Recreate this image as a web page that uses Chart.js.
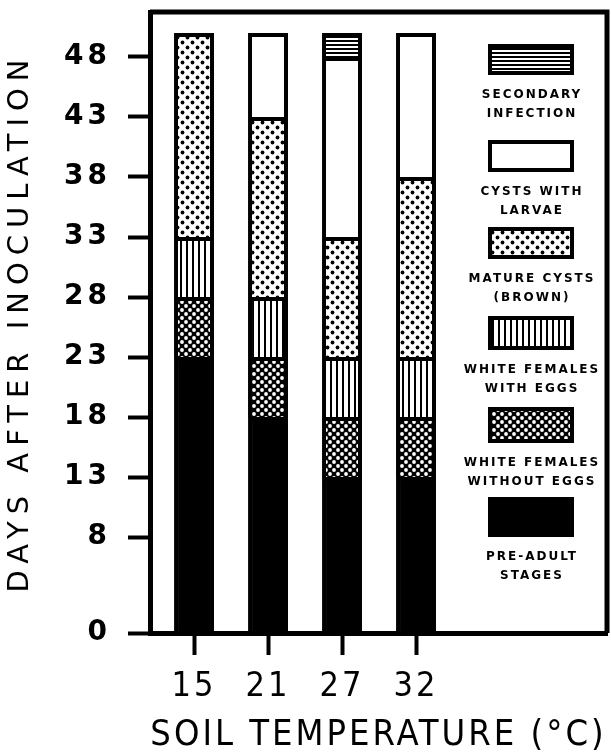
<!DOCTYPE html>
<html>
<head>
<meta charset="utf-8">
<script src="https://cdn.jsdelivr.net/npm/chart.js@4.4.1/dist/chart.umd.min.js"></script>
<style>
  html, body { margin: 0; padding: 0; background: #fff; }
</style>
</head>
<body>
<canvas id="chart" width="611" height="754"></canvas>
<script>
// soil temperature categories and y ticks (days)
const temperatures = ['15', '21', '27', '32'];
const dayTicks = [0, 8, 13, 18, 23, 28, 33, 38, 43, 48];
const dayMax = 51.75;

// days spent in each stage, stacked from the bottom up
const preAdult = [23, 18, 13, 13];
const femalesNoEggs = [5, 5, 5, 5];
const femalesEggs = [5, 5, 5, 5];
const matureCysts = [17, 15, 10, 15];
const cystsLarvae = [0, 7, 15, 12];
const secondaryInfection = [0, 0, 2, 0];

// legend text, top to bottom
const legendLines = [
  ['SECONDARY', 'INFECTION'],
  ['CYSTS WITH', 'LARVAE'],
  ['MATURE CYSTS', '(BROWN)'],
  ['WHITE FEMALES', 'WITH EGGS'],
  ['WHITE FEMALES', 'WITHOUT EGGS'],
  ['PRE-ADULT', 'STAGES']
];

const canvas = document.getElementById('chart');
const ctx = canvas.getContext('2d');

function makePattern(w, h, bg, draw) {
  const c = document.createElement('canvas');
  c.width = w;
  c.height = h;
  const g = c.getContext('2d');
  g.fillStyle = bg;
  g.fillRect(0, 0, w, h);
  draw(g);
  return ctx.createPattern(c, 'repeat');
}

function dot(g, x, y, r) {
  g.beginPath();
  g.arc(x, y, r, 0, Math.PI * 2);
  g.fill();
}

const solidBlack = '#000';
const crossHatch = makePattern(8, 8, '#000', g => {
  g.fillStyle = '#fff';
  dot(g, 2, 2, 1.9);
  dot(g, 6, 6, 1.9);
});
const verticalLines = makePattern(6, 1, '#fff', g => {
  g.fillStyle = '#000';
  g.fillRect(0, 0, 2, 1);
});
const dotted = makePattern(10, 10, '#fff', g => {
  g.fillStyle = '#000';
  dot(g, 2.5, 2.5, 1.9);
  dot(g, 7.5, 7.5, 1.9);
});
const horizontalLines = makePattern(1, 4, '#fff', g => {
  g.fillStyle = '#000';
  g.fillRect(0, 0, 1, 2);
});

function toPoints(values) {
  return values.map((v, i) => ({ x: i, y: v }));
}

function bar(label, values, fill) {
  return {
    label: label,
    data: toPoints(values),
    backgroundColor: fill,
    borderColor: '#000',
    borderWidth: 4,
    borderSkipped: 'start',
    barPercentage: 0.54,
    categoryPercentage: 1
  };
}

// canvas letterSpacing per scale (chart.js has no option for it)
function spaceText(scale, titleGap, labelGap) {
  if (scale._spaced) return;
  scale._spaced = true;
  const drawTitle = scale.drawTitle;
  const drawLabels = scale.drawLabels;
  scale.drawTitle = function () {
    this.ctx.save();
    this.ctx.letterSpacing = titleGap;
    drawTitle.apply(this, arguments);
    this.ctx.restore();
  };
  scale.drawLabels = function () {
    this.ctx.save();
    this.ctx.letterSpacing = labelGap;
    drawLabels.apply(this, arguments);
    this.ctx.restore();
  };
}

const framePlugin = {
  id: 'frame',
  afterDraw(chart) {
    const a = chart.chartArea;
    const c = chart.ctx;
    c.save();
    c.strokeStyle = '#000';
    c.lineWidth = 5;
    c.beginPath();
    c.moveTo(a.left, a.top);
    c.lineTo(a.right, a.top);
    c.lineTo(a.right, a.bottom);
    c.stroke();
    c.restore();
  }
};

const legendPlugin = {
  id: 'sideLegend',
  afterDraw(chart) {
    const c = chart.ctx;
    const sets = chart.data.datasets.slice().reverse();
    const boxX = 490, boxW = 82;
    const tops = [46, 142, 229, 318, 409, 499];
    const heights = [27, 28, 28, 30, 32, 36];
    c.save();
    sets.forEach((ds, i) => {
      const y = tops[i], h = heights[i];
      c.fillStyle = ds.backgroundColor;
      c.fillRect(boxX, y, boxW, h);
      c.strokeStyle = '#000';
      c.lineWidth = 4;
      c.strokeRect(boxX, y, boxW, h);
      c.fillStyle = '#000';
      c.font = 'bold 12px "DejaVu Sans"';
      c.letterSpacing = '2px';
      c.textAlign = 'center';
      c.textBaseline = 'middle';
      const lines = legendLines[i];
      c.fillText(lines[0], boxX + boxW / 2 + 1, y + h + 22);
      c.fillText(lines[1], boxX + boxW / 2 + 1, y + h + 41);
    });
    c.restore();
  }
};

new Chart(ctx, {
  type: 'bar',
  data: {
    datasets: [
      bar('Pre-adult stages', preAdult, solidBlack),
      bar('White females without eggs', femalesNoEggs, crossHatch),
      bar('White females with eggs', femalesEggs, verticalLines),
      bar('Mature cysts (brown)', matureCysts, dotted),
      bar('Cysts with larvae', cystsLarvae, '#fff'),
      bar('Secondary infection', secondaryInfection, horizontalLines)
    ]
  },
  options: {
    responsive: false,
    animation: false,
    devicePixelRatio: 1,
    layout: { padding: { top: 12, right: 4, left: 0, bottom: 0 } },
    plugins: {
      legend: { display: false },
      tooltip: { enabled: false }
    },
    scales: {
      x: {
        type: 'linear',
        stacked: true,
        offset: false,
        min: -0.595,
        max: 5.581,
        afterBuildTicks: s => { s.ticks = temperatures.map((t, i) => ({ value: i })); },
        afterFit: s => {
          s.height = 121;
          s.paddingLeft = 0;
          s.paddingRight = 0;
          spaceText(s, '3px', '3px');
        },
        ticks: {
          callback: (v, i) => temperatures[i],
          color: '#000',
          padding: 12,
          maxRotation: 0,
          autoSkip: false,
          font: { family: '"DejaVu Sans Condensed", "DejaVu Sans"', size: 34 }
        },
        grid: { display: true, offset: false, drawOnChartArea: false, tickLength: 22, tickWidth: 4, tickColor: '#000' },
        border: { display: true, width: 5, color: '#000' },
        title: {
          display: true,
          text: 'SOIL TEMPERATURE (°C)',
          color: '#000',
          padding: 0,
          font: { family: '"DejaVu Sans Condensed", "DejaVu Sans"', size: 36, lineHeight: 1 }
        }
      },
      y: {
        stacked: true,
        min: 0,
        max: dayMax,
        afterBuildTicks: s => { s.ticks = dayTicks.map(v => ({ value: v })); },
        afterFit: s => {
          s.width = 150;
          s.paddingTop = 0;
          s.paddingBottom = 0;
          spaceText(s, '7px', '4px');
        },
        ticks: {
          color: '#000',
          padding: 17,
          font: { family: '"DejaVu Sans"', size: 28, weight: 'bold' }
        },
        grid: { display: true, drawOnChartArea: false, tickLength: 22, tickWidth: 4, tickColor: '#000' },
        border: { display: true, width: 5, color: '#000' },
        title: {
          display: true,
          text: 'DAYS AFTER INOCULATION',
          color: '#000',
          padding: { top: 3, bottom: 0 },
          font: { family: '"DejaVu Sans"', size: 29, lineHeight: 1.2 }
        }
      }
    }
  },
  plugins: [framePlugin, legendPlugin]
});
</script>
</body>
</html>
